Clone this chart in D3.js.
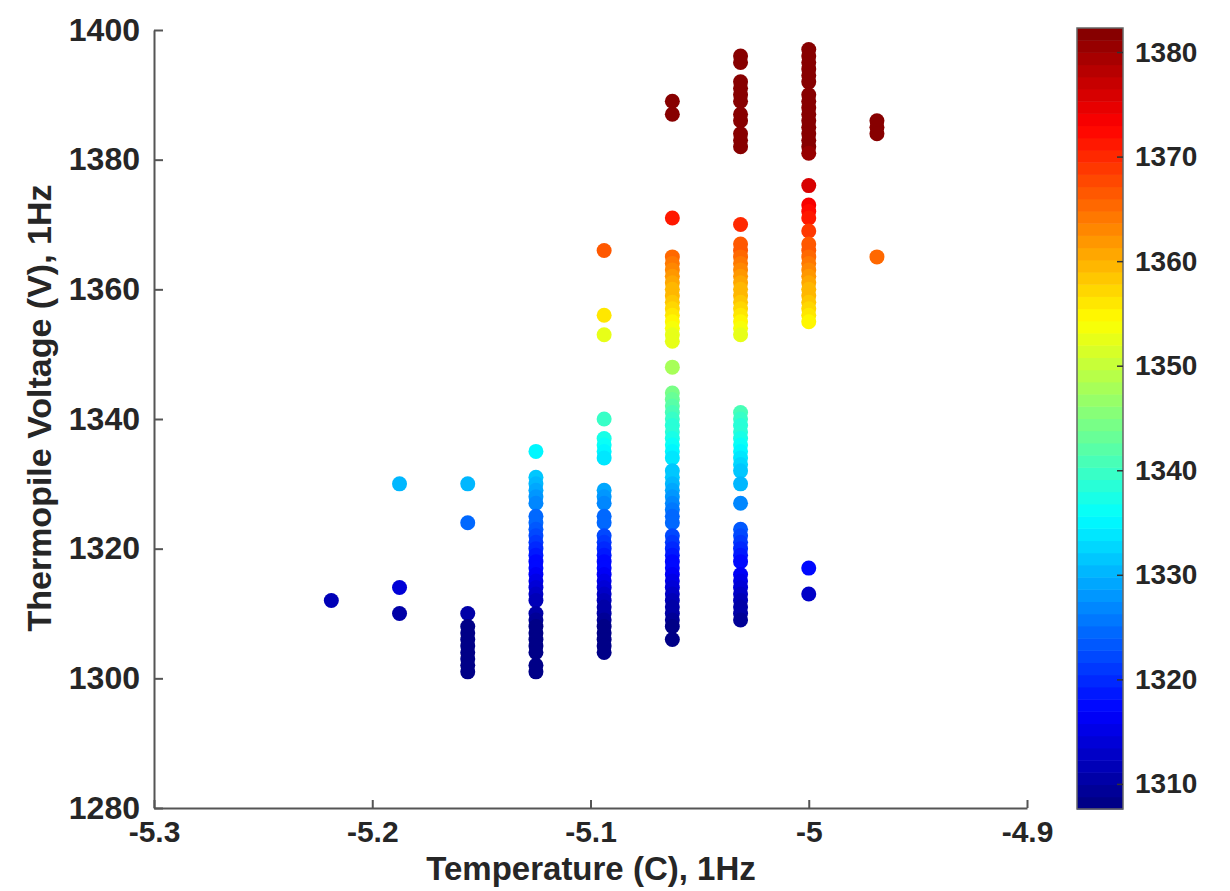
<!DOCTYPE html>
<html>
<head>
<meta charset="utf-8">
<title>Thermopile Voltage vs Temperature</title>
<script src="https://d3js.org/d3.v7.min.js"></script>
<style>
  body { margin: 0; background: #fff; }
  text { font-family: "Liberation Sans", Arial, Helvetica, sans-serif; font-weight: bold; fill: #262626; }
  .axis path, .axis line { stroke: #555; stroke-width: 2px; }
  .axis text { font-size: 30px; }
  .yaxis text { font-size: 32px; }
  .cbar text { font-size: 28px; }
  .cbar line { stroke: #333; stroke-width: 1.5px; }
</style>
</head>
<body>
<svg width="1230" height="891"></svg>
<script>
// temperatures (C) of each column, read in 1/32 degree steps
var temps = [-5.21875, -5.1875, -5.15625, -5.125, -5.09375, -5.0625, -5.03125, -5.0, -4.96875];

// thermopile voltage readings per column
var colA = [1312];
var colB = [1330, 1314, 1310];
var colC = [1330, 1324, 1310, 1308, 1307, 1306, 1305, 1304, 1303, 1302, 1301];
var colD = [1335, 1331, 1330, 1329, 1328, 1327, 1325, 1324, 1323, 1322, 1321, 1320, 1319, 1318,
            1317, 1316, 1315, 1314, 1313, 1312, 1310, 1309, 1308, 1307, 1306, 1305, 1304, 1302, 1301];
var colE = [1366, 1356, 1353, 1340, 1337, 1336, 1335, 1334, 1329, 1328, 1327, 1325, 1324, 1322,
            1321, 1320, 1319, 1318, 1317, 1316, 1315, 1314, 1313, 1312, 1311, 1310, 1309, 1308,
            1307, 1306, 1305, 1304];
var colF = [1389, 1387, 1371, 1365, 1364, 1363, 1362, 1361, 1360, 1359, 1358, 1357, 1356, 1355,
            1354, 1353, 1352, 1348, 1344, 1343, 1342, 1341, 1340, 1339, 1338, 1337, 1336, 1335,
            1334, 1332, 1331, 1330, 1329, 1328, 1327, 1326, 1325, 1324, 1322, 1321, 1320, 1319,
            1318, 1317, 1316, 1315, 1314, 1313, 1312, 1311, 1310, 1309, 1308, 1306];
var colG = [1396, 1395, 1392, 1391, 1390, 1389, 1387, 1386, 1384, 1383, 1382, 1370, 1367, 1366,
            1365, 1364, 1363, 1362, 1361, 1360, 1359, 1358, 1357, 1356, 1355, 1354, 1353, 1341,
            1340, 1339, 1338, 1337, 1336, 1335, 1334, 1333, 1332, 1330, 1327, 1323, 1322, 1321,
            1320, 1319, 1318, 1316, 1315, 1314, 1313, 1312, 1311, 1310, 1309];
var colH = [1397, 1396, 1395, 1394, 1393, 1392, 1390, 1389, 1388, 1387, 1386, 1385, 1384, 1383,
            1382, 1381, 1376, 1373, 1372, 1371, 1369, 1367, 1366, 1365, 1364, 1363, 1362, 1361,
            1360, 1359, 1358, 1357, 1356, 1355, 1317, 1313];
var colI = [1386, 1385, 1384, 1365];
var columns = [colA, colB, colC, colD, colE, colF, colG, colH, colI];

var xTicks = [-5.3, -5.2, -5.1, -5, -4.9];
var yTicks = [1280, 1300, 1320, 1340, 1360, 1380, 1400];
var cTicks = [1310, 1320, 1330, 1340, 1350, 1360, 1370, 1380];
var cLimits = [1307.6, 1382.3];

var points = [];
columns.forEach(function(col, i) {
  col.forEach(function(v) { points.push({t: temps[i], v: v}); });
});

var svg = d3.select('svg');

var x = d3.scaleLinear().domain([-5.3, -4.9]).range([154, 1027]);
var y = d3.scaleLinear().domain([1280, 1400]).range([808, 30]);

// MATLAB style jet colormap, 64 levels
function jet(t) {
  var c = function(a) { return Math.max(0, Math.min(1, a)); };
  return d3.rgb(255 * c(1.5 - Math.abs(4 * t - 3)),
                255 * c(1.5 - Math.abs(4 * t - 2)),
                255 * c(1.5 - Math.abs(4 * t - 1)));
}
var nLevels = 64;
var level = d3.scaleQuantize().domain(cLimits).range(d3.range(nLevels));
var color = function(v) {
  var vv = Math.max(cLimits[0], Math.min(cLimits[1], v));
  return jet((level(vv) + 0.5) / nLevels);
};
var plain = function(d) { return String(d); };

// points
svg.append('g')
  .selectAll('circle')
  .data(points)
  .enter()
  .append('circle')
  .attr('cx', function(d) { return x(d.t); })
  .attr('cy', function(d) { return y(d.v); })
  .attr('r', 7.5)
  .attr('fill', function(d) { return color(d.v); });

// axes, ticks pointing inward
svg.append('g')
  .attr('class', 'axis')
  .attr('transform', 'translate(0,808)')
  .call(d3.axisBottom(x).tickValues(xTicks).tickFormat(plain).tickSizeInner(-8).tickSizeOuter(0).tickPadding(13));

svg.append('g')
  .attr('class', 'axis yaxis')
  .attr('transform', 'translate(154,0)')
  .call(d3.axisLeft(y).tickValues(yTicks).tickFormat(plain).tickSizeInner(-9).tickSizeOuter(0).tickPadding(14));

svg.selectAll('.axis .domain').attr('fill', 'none');

// axis labels
svg.append('text')
  .attr('x', 591)
  .attr('y', 880)
  .attr('text-anchor', 'middle')
  .style('font-size', '33px')
  .text('Temperature (C), 1Hz');

svg.append('text')
  .attr('transform', 'translate(51,408) rotate(-90)')
  .attr('text-anchor', 'middle')
  .style('font-size', '34px')
  .text('Thermopile Voltage (V), 1Hz');

// colorbar
var cy = d3.scaleLinear().domain(cLimits).range([809, 28]);
var cbar = svg.append('g').attr('class', 'cbar');
var step = (cLimits[1] - cLimits[0]) / nLevels;
cbar.selectAll('rect.band')
  .data(d3.range(nLevels))
  .enter()
  .append('rect')
  .attr('class', 'band')
  .attr('x', 1077)
  .attr('width', 46)
  .attr('y', function(i) { return cy(cLimits[0] + (i + 1) * step); })
  .attr('height', function(i) { return cy(cLimits[0] + i * step) - cy(cLimits[0] + (i + 1) * step) + 0.5; })
  .attr('fill', function(i) { return jet((i + 0.5) / nLevels); });

cbar.append('rect')
  .attr('x', 1077).attr('y', 28)
  .attr('width', 46).attr('height', 781)
  .attr('fill', 'none')
  .attr('stroke', '#666')
  .attr('stroke-width', 1.5);

var cAxis = cbar.append('g')
  .attr('transform', 'translate(1123,0)')
  .call(d3.axisRight(cy).tickValues(cTicks).tickFormat(plain).tickSizeInner(-6).tickSizeOuter(0).tickPadding(12));
cAxis.select('.domain').remove();
</script>
</body>
</html>
